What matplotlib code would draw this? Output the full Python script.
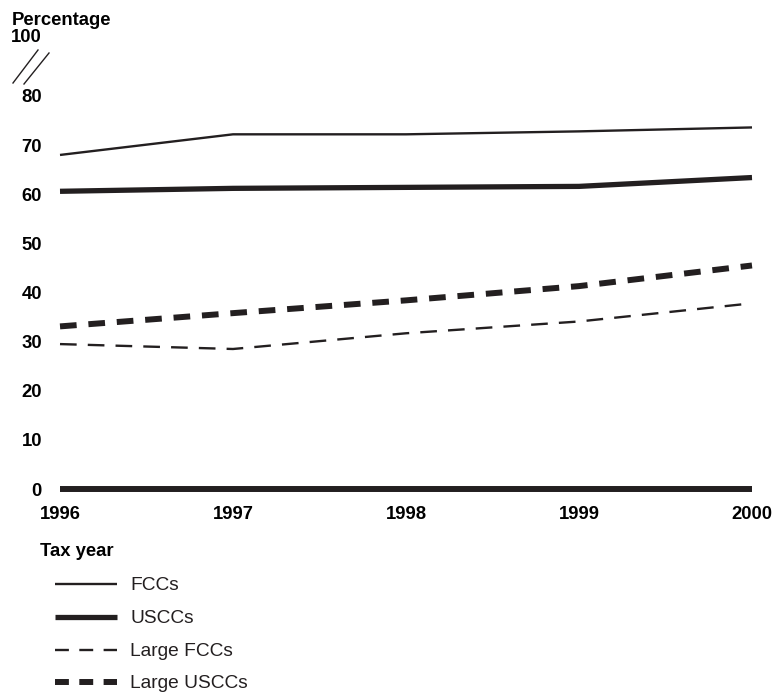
import matplotlib
matplotlib.use('Agg')
import matplotlib.pyplot as plt
from matplotlib.lines import Line2D

plt.rcParams['font.family'] = ['Liberation Sans', 'DejaVu Sans']
plt.rcParams['lines.scale_dashes'] = False

# data
years = [1996, 1997, 1998, 1999, 2000]
fccs = [68.0, 72.2, 72.2, 72.8, 73.6]
usccs = [60.6, 61.2, 61.4, 61.6, 63.4]
large_fccs = [29.5, 28.5, 31.7, 34.1, 37.8]
large_usccs = [33.1, 35.8, 38.4, 41.3, 45.5]
y_ticks = [0, 10, 20, 30, 40, 50, 60, 70, 80]
series_names = ['FCCs', 'USCCs', 'Large FCCs', 'Large USCCs']

W, H = 778, 692
fig = plt.figure(figsize=(W / 100, H / 100), dpi=100)
ink = '#231f20'
bold_size = 13.3

def fx(px):
    return px / W

def fy(py):
    return 1 - py / H

# axes: 1996 at px 60, 2000 at px 752; 0 at py 489, 80 at py 96
ax = fig.add_axes([fx(60), fy(489), fx(752) - fx(60), fy(96) - fy(489)])
ax.set_xlim(1996, 2000)
ax.set_ylim(0, 80)

styles = [
    dict(lw=1.7, ls='-'),
    dict(lw=3.8, ls='-'),
    dict(lw=1.7, ls=(0, (12, 8))),
    dict(lw=4.3, ls=(0, (12, 8.5))),
]
for vals, st in zip([fccs, usccs, large_fccs, large_usccs], styles):
    ax.plot(years, vals, color=ink, solid_capstyle='butt',
            dash_capstyle='butt', clip_on=False, **st)

ax.axhline(0, color=ink, lw=4.3, clip_on=False, solid_capstyle='butt')

for s in ax.spines.values():
    s.set_visible(False)
ax.set_yticks(y_ticks)
ax.set_yticklabels([str(t) for t in y_ticks], fontsize=bold_size, fontweight='bold')
ax.set_xticks(years)
ax.set_xticklabels([str(y) for y in years], fontsize=bold_size, fontweight='bold')
ax.tick_params(axis='y', length=0, pad=13)
ax.tick_params(axis='x', length=0, pad=12)

# axis break and top label
fig.text(fx(42), fy(38), '100', ha='right', va='center', fontsize=bold_size, fontweight='bold')
fig.text(fx(12), fy(25), 'Percentage', ha='left', va='baseline', fontsize=bold_size, fontweight='bold')
fig.add_artist(Line2D([fx(13), fx(38)], [fy(83), fy(50)], color=ink, lw=1.0))
fig.add_artist(Line2D([fx(24), fx(49)], [fy(84), fy(53)], color=ink, lw=1.0))

fig.text(fx(40), fy(543), 'Tax year', ha='left', va='top', fontsize=bold_size, fontweight='bold')

# legend drawn by hand
legend_styles = [
    dict(lw=1.7, ls='-'),
    dict(lw=3.8, ls='-'),
    dict(lw=1.7, ls=(0, (10, 7.5))),
    dict(lw=4.3, ls=(0, (10, 7.5))),
]
rows = [584, 617, 650, 682]
for name, st, ry in zip(series_names, legend_styles, rows):
    fig.add_artist(Line2D([fx(55), fx(117)], [fy(ry), fy(ry)], color=ink,
                          solid_capstyle='butt', dash_capstyle='butt', **st))
    fig.text(fx(130), fy(ry + 1.5), name, ha='left', va='center', fontsize=13.8, color=ink)

fig.savefig('out.png', dpi=100)
